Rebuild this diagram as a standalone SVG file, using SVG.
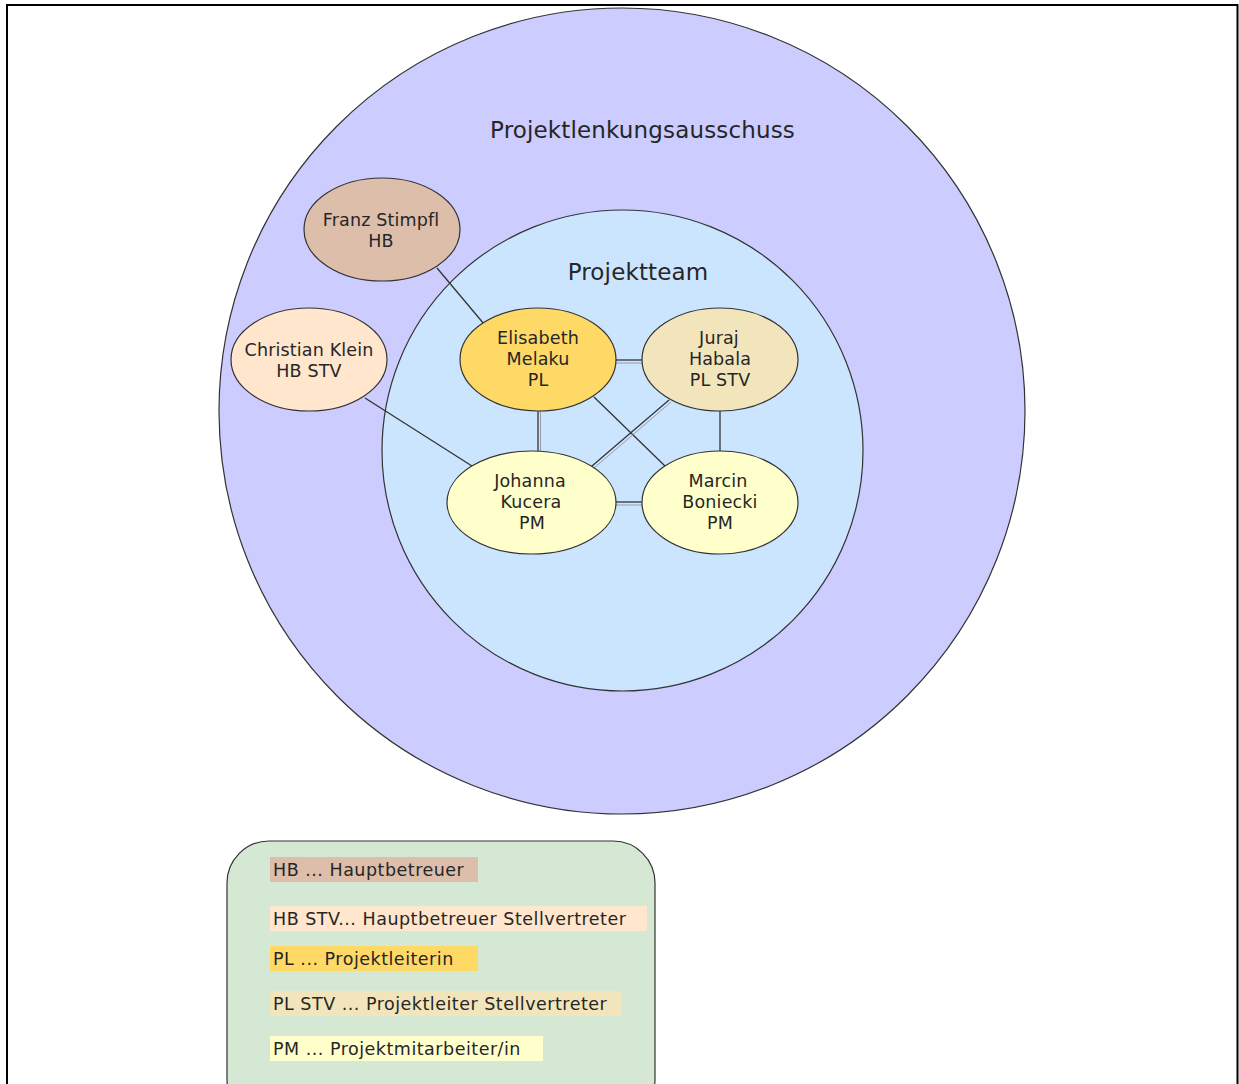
<svg xmlns="http://www.w3.org/2000/svg" width="1239" height="1084" viewBox="0 0 1239 1084">
<style>
text{font-family:"DejaVu Sans",Verdana,sans-serif;fill:#262626;}
.n{font-size:17.5px;text-anchor:middle;letter-spacing:0.15px;}
.t{font-size:23px;text-anchor:middle;letter-spacing:0.15px;}
.l{font-size:17.5px;letter-spacing:0.5px;}
.node{stroke:#333;stroke-width:1.2;}
.e{stroke:#333;stroke-width:1.3;fill:none;}
.e2{stroke:#9a9aa8;stroke-width:1;fill:none;}
</style>
<rect x="0" y="0" width="1239" height="1084" fill="#fff"/>
<rect x="7" y="5" width="1230.5" height="1090" fill="none" stroke="#000" stroke-width="2"/>
<g id="projektlenkungsausschuss">
<circle cx="622" cy="411" r="403" fill="#CCCCFF" stroke="#333" stroke-width="1.2"/>
<text class="t" x="642.5" y="138">Projektlenkungsausschuss</text>
</g>
<g id="projektteam">
<circle cx="622.5" cy="450.5" r="240.5" fill="#CCE5FF" stroke="#333" stroke-width="1.2"/>
<text class="t" x="638" y="280">Projektteam</text>
</g>
<g id="connectors">
<line class="e" x1="437" y1="268" x2="484" y2="324"/>
<line class="e" x1="365" y1="398" x2="472" y2="466"/>
<line class="e" x1="616" y1="360" x2="642" y2="360"/>
<line class="e2" x1="616" y1="363" x2="642" y2="363"/>
<line class="e" x1="538" y1="411" x2="538" y2="451"/>
<line class="e2" x1="540.5" y1="411" x2="540.5" y2="451"/>
<line class="e" x1="720" y1="411" x2="720" y2="451"/>
<line class="e" x1="594" y1="397" x2="665" y2="466"/>
<line class="e" x1="669" y1="400" x2="592" y2="466"/>
<line class="e2" x1="671" y1="402" x2="594" y2="468"/>
<line class="e" x1="616" y1="502" x2="642" y2="502"/>
<line class="e2" x1="616" y1="505" x2="642" y2="505"/>
</g>
<g id="franz">
<ellipse class="node" cx="382" cy="229.5" rx="78" ry="51.5" fill="#DDBEAB"/>
<text class="n" x="381" y="226">Franz Stimpfl</text>
<text class="n" x="381" y="247">HB</text>
</g>
<g id="christian">
<ellipse class="node" cx="309" cy="359.5" rx="78" ry="51.5" fill="#FFE6CC"/>
<text class="n" x="309" y="356">Christian Klein</text>
<text class="n" x="309" y="377">HB STV</text>
</g>
<g id="elisabeth">
<ellipse class="node" cx="538" cy="359.5" rx="78" ry="51.5" fill="#FFD966"/>
<text class="n" x="538" y="344">Elisabeth</text>
<text class="n" x="538" y="365">Melaku</text>
<text class="n" x="538" y="386">PL</text>
</g>
<g id="juraj">
<ellipse class="node" cx="720" cy="359.5" rx="78" ry="51.5" fill="#F2E5BC"/>
<text class="n" x="719" y="344">Juraj</text>
<text class="n" x="720" y="365">Habala</text>
<text class="n" x="720" y="386">PL STV</text>
</g>
<g id="johanna">
<ellipse class="node" cx="531.5" cy="502.5" rx="84.5" ry="51.5" fill="#FFFFCC"/>
<text class="n" x="530" y="487">Johanna</text>
<text class="n" x="531" y="508">Kucera</text>
<text class="n" x="532" y="529">PM</text>
</g>
<g id="marcin">
<ellipse class="node" cx="720" cy="502.5" rx="78" ry="51.5" fill="#FFFFCC"/>
<text class="n" x="718" y="487">Marcin</text>
<text class="n" x="720" y="508">Boniecki</text>
<text class="n" x="720" y="529">PM</text>
</g>
<g id="legend">
<rect x="227" y="841" width="428" height="280" rx="42" fill="#D5E8D4" stroke="#333" stroke-width="1.2"/>
<rect x="270" y="857" width="208" height="25" fill="#DDBEAB"/>
<text class="l" x="273" y="876">HB ... Hauptbetreuer</text>
<rect x="270" y="906" width="377" height="25" fill="#FFE6CC"/>
<text class="l" x="273" y="925">HB STV... Hauptbetreuer Stellvertreter</text>
<rect x="270" y="946" width="208" height="25" fill="#FFD966"/>
<text class="l" x="273" y="965">PL ... Projektleiterin</text>
<rect x="270" y="991" width="351" height="25" fill="#F2E5BC"/>
<text class="l" x="273" y="1010">PL STV ... Projektleiter Stellvertreter</text>
<rect x="270" y="1036" width="273" height="25" fill="#FFFFCC"/>
<text class="l" x="273" y="1055">PM ... Projektmitarbeiter/in</text>
</g>
</svg>
